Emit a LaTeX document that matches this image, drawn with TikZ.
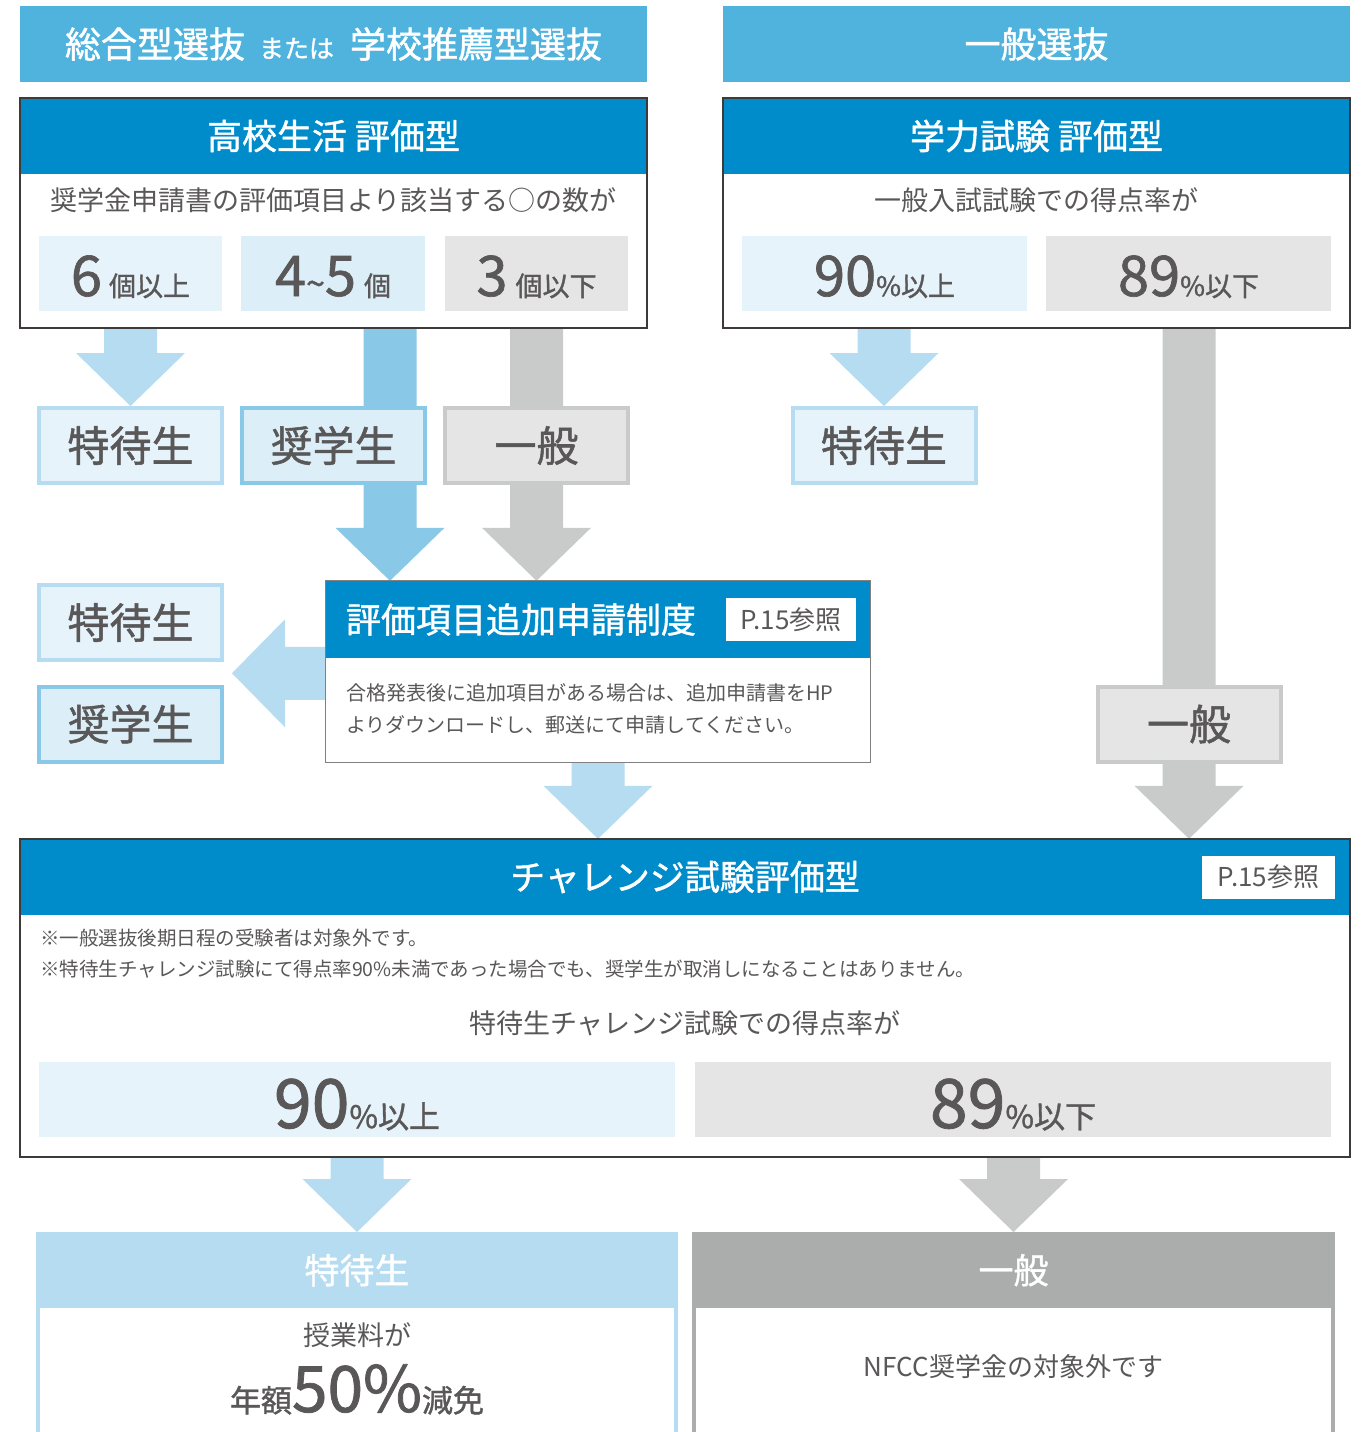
\documentclass[tikz,border=0pt]{standalone}
\usepackage{fontspec}
\setmainfont{Noto Sans CJK JP}
\newfontfamily\medfont{Noto Sans CJK JP}[FakeBold=1.2]
\usetikzlibrary{calc,positioning,backgrounds}

\definecolor{selblue}{HTML}{4FB3DE}
\definecolor{hdblue}{HTML}{008CCB}
\definecolor{lblue}{HTML}{B5DCF0}
\definecolor{mblue}{HTML}{89C8E7}
\definecolor{agray}{HTML}{C9CACA}
\definecolor{dgray}{HTML}{ABACAC}
\definecolor{celllb}{HTML}{E6F3FB}
\definecolor{cellmb}{HTML}{DCEEF8}
\definecolor{cellgr}{HTML}{E5E5E5}
\definecolor{txt}{HTML}{595757}
\definecolor{frame}{HTML}{3E3A39}

\newcommand\fsz[1]{\fontsize{#1}{#1}\selectfont}

% block arrow downwards: x reference, source node, target node
\newcommand\blockdown[4][lblue]{%
  \coordinate (bd-s) at (#2 |- #3.south);
  \coordinate (bd-t) at (#2 |- #4.north);
  \fill[#1] ($(bd-s)+(-26.5,0)$) -- ($(bd-s)+(26.5,0)$) -- ($(bd-t)+(26.5,-53)$)
    -- ($(bd-t)+(54.5,-53)$) -- (bd-t) -- ($(bd-t)+(-54.5,-53)$) -- ($(bd-t)+(-26.5,-53)$) -- cycle;}
% block arrow to the left: start, tip
\newcommand\blockleft[3][lblue]{%
  \fill[#1] ($(#2)+(0,-26.5)$) -- ($(#3)+(53,-26.5)$) -- ($(#3)+(53,-54)$) -- (#3)
    -- ($(#3)+(53,54)$) -- ($(#3)+(53,26.5)$) -- ($(#2)+(0,26.5)$) -- cycle;}

\tikzset{
  selhead/.style={fill=selblue, text=white, inner sep=0, minimum width=627, minimum height=76, font=\medfont\fsz{36}},
  panel/.style={fill=white, inner sep=0},
  rim/.style={draw=frame, line width=1.5},
  thinrim/.style={draw=gray, line width=1},
  band/.style={fill=hdblue, text=white, inner sep=0, minimum height=76, font=\medfont\fsz{35}},
  leadtext/.style={text=txt, inner sep=0, font=\fsz{27}},
  cellbox/.style={fill=#1, text=txt, inner sep=0, minimum height=75, text height=46, text depth=0, font=\medfont},
  resbox/.style 2 args={draw=#1, fill=#2, line width=4, text=txt, inner sep=0,
    minimum width=183, minimum height=75, font=\medfont\fsz{42}},
  prefbox/.style={fill=white, text=txt, inner sep=0, minimum height=43, font=\fsz{26}},
  notetext/.style={text=txt, inner sep=0, anchor=west, font=\fsz{19.5}},
}

\begin{document}
\begin{tikzpicture}[x=1pt,y=-1pt]
\useasboundingbox (0,0) rectangle (1368,1432);

% selection headers
\node[selhead] (sel1) at (333.5,44) {総合型選抜\hspace{14pt}{\fsz{25}または}\hspace{16pt}学校推薦型選抜};
\node[selhead] (sel2) at (1036.5,44) {一般選抜};

% high school life panel
\node[panel, minimum width=627, minimum height=230] (hk) at (333.5,213) {};
\node[band, minimum width=627, below=0pt of hk.north] (hkb) {高校生活\hspace{8pt}評価型};
\node[leadtext] (hkq) at (333.5,200) {奨学金申請書の評価項目より該当する○の数が};
\node[cellbox=celllb, minimum width=183] (c6) at (130.5,273) {{\fsz{56}6}\hspace{7pt}{\fsz{27}個以上}};
\node[cellbox=cellmb, minimum width=184] (c45) at (333,273) {{\fsz{56}4{\fsz{34}\textasciitilde}5}\hspace{8pt}{\fsz{27}個}};
\node[cellbox=cellgr, minimum width=183] (c3) at (536.5,273) {{\fsz{56}3}\hspace{8pt}{\fsz{27}個以下}};
\draw[rim] (hk.north west) rectangle (hk.south east);

% academic test panel
\node[panel, minimum width=627, minimum height=230] (gk) at (1036.5,213) {};
\node[band, minimum width=627, below=0pt of gk.north] (gkb) {学力試験\hspace{8pt}評価型};
\node[leadtext] (gkq) at (1036.5,200) {一般入試試験での得点率が};
\node[cellbox=celllb, minimum width=285] (c90) at (884.5,273) {{\fsz{56}90}{\fsz{27}\%以上}};
\node[cellbox=cellgr, minimum width=285] (c89) at (1188.5,273) {{\fsz{56}89}{\fsz{27}\%以下}};
\draw[rim] (gk.north west) rectangle (gk.south east);

% results of the first stage
\node[resbox={lblue}{celllb}] (tok1) at (130.5,445.5) {特待生};
\node[resbox={mblue}{cellmb}] (syo1) at (333.5,445.5) {奨学生};
\node[resbox={agray}{cellgr}] (ipp1) at (536.5,445.5) {一般};
\node[resbox={lblue}{celllb}] (tok2) at (884,445.5) {特待生};
\node[resbox={lblue}{celllb}] (tok4) at (130.5,622.5) {特待生};
\node[resbox={mblue}{cellmb}] (syo4) at (130.5,724) {奨学生};
\node[resbox={agray}{cellgr}] (ipp2) at (1189,724) {一般};

% additional application panel
\node[panel, minimum width=544, minimum height=181] (ts) at (598,671.5) {};
\node[band, minimum width=544, minimum height=77, below=0pt of ts.north] (tsb) {};
\node[anchor=west, text=white, inner sep=0, font=\medfont\fsz{35}] (tst) at ([xshift=20]tsb.west) {評価項目追加申請制度};
\node[prefbox, minimum width=130, left=14pt of tsb.east] (tsp) {P.15参照};
\node[text=txt, inner sep=0, anchor=west, align=left, font=\fontsize{20}{32}\selectfont] (tsn) at (346,709)
  {合格発表後に追加項目がある場合は、追加申請書をHP\\よりダウンロードし、郵送にて申請してください。};
\draw[thinrim] (ts.north west) rectangle (ts.south east);

% challenge test panel
\node[panel, minimum width=1330, minimum height=318] (ch) at (685,998) {};
\node[band, minimum width=1330, below=0pt of ch.north] (chb) {チャレンジ試験評価型};
\node[prefbox, minimum width=133, left=15pt of chb.east] (chp) {P.15参照};
\node[notetext] (chn1) at (40,938) {※一般選抜後期日程の受験者は対象外です。};
\node[notetext] (chn2) at (40,969) {※特待生チャレンジ試験にて得点率90\%未満であった場合でも、奨学生が取消しになることはありません。};
\node[leadtext] (chq) at (685,1023) {特待生チャレンジ試験での得点率が};
\node[cellbox=celllb, minimum width=636, text height=57] (cl) at (357,1099.5) {{\fsz{68}90}{\fsz{31}\%以上}};
\node[cellbox=cellgr, minimum width=636, text height=57] (cr) at (1013,1099.5) {{\fsz{68}89}{\fsz{31}\%以下}};
\draw[rim] (ch.north west) rectangle (ch.south east);

% final results
\node[draw=lblue, line width=4, fill=white, minimum width=638, minimum height=214] (tok3) at (357,1341) {};
\node[fill=lblue, text=white, inner sep=0, minimum width=642, minimum height=76, below=0pt of tok3.north, font=\medfont\fsz{35}] (tok3b) {特待生};
\node[leadtext] (tok3q) at (357,1335) {授業料が};
\node[text=txt, inner sep=0, anchor=base, font=\medfont\fsz{31}] (tok3r) at (357,1412) {年額{\fsz{64}50\%}減免};
\node[draw=dgray, line width=4, fill=white, minimum width=639, minimum height=214] (ipp3) at (1013.5,1341) {};
\node[fill=dgray, text=white, inner sep=0, minimum width=643, minimum height=76, below=0pt of ipp3.north, font=\medfont\fsz{35}] (ipp3b) {一般};
\node[leadtext, font=\fsz{26}] (ipp3q) at (1013.5,1367) {NFCC奨学金の対象外です};

% arrows behind the boxes
\begin{scope}[on background layer]
\fill[white] (0,0) rectangle (1368,1432);
\blockdown{tok1}{hk}{tok1}
\coordinate (x45) at ([xshift=56.5]syo1.north);
\blockdown[mblue]{x45}{hk}{ts}
\blockdown[agray]{ipp1}{hk}{ts}
\blockdown{tok2}{gk}{tok2}
\blockdown[agray]{ipp2}{gk}{ch}
\blockdown{ts}{ts}{ch}
\blockdown{tok3}{ch}{tok3}
\blockdown[agray]{ipp3}{ch}{ipp3}
\coordinate (ltip) at ($(tok4.south east)!.5!(syo4.north east)+(8,0)$);
\coordinate (lbase) at (ltip -| ts.west);
\blockleft{lbase}{ltip}
\end{scope}
\end{tikzpicture}
\end{document}
